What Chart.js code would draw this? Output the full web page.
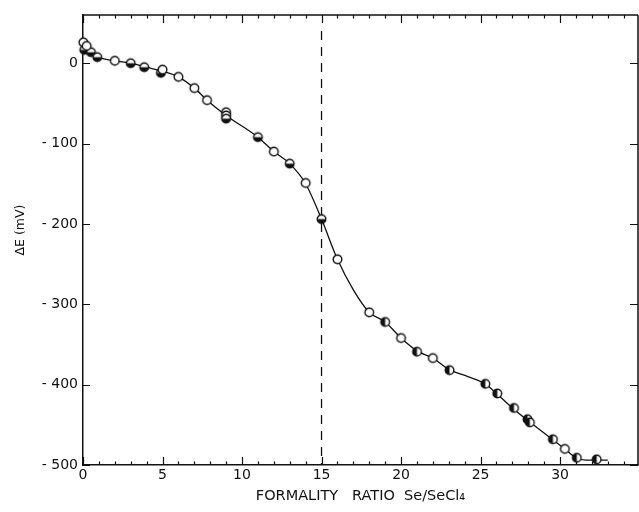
<!DOCTYPE html>
<html><head><meta charset="utf-8">
<script src="https://cdn.jsdelivr.net/npm/chart.js@4.4.1/dist/chart.umd.min.js"></script>
<style>html,body{margin:0;padding:0;background:#fff}#wrap{width:639px;height:512px}</style>
</head><body><div id="wrap"><canvas id="c" width="639" height="512"></canvas></div>
<script>
// Open circles
const openX = [0.02, 0.23, 2, 5, 6, 7, 7.8, 12, 14, 16, 18, 20, 22, 30.3];
const openY = [26, 21.5, 3, -8, -17, -31, -46, -110, -149, -244, -310, -342, -367, -480];
// Lower-half filled circles
const halfX = [0.08, 0.5, 0.9, 3, 3.85, 4.9, 9, 9, 9, 11, 13, 15];
const halfY = [16.6, 13.7, 7.5, 0, -5, -12, -61, -65, -69, -92, -125, -194];
// Left-half filled circles
const sideX = [19, 21, 23.05, 25.3, 26.05, 27.1, 27.95, 28.1, 29.55, 31.05, 32.3];
const sideY = [-322, -359, -382, -399, -411, -429, -443, -447, -468, -491, -493];
// Drawn curve
const curveX = [0, 0.9, 2, 3, 4, 5, 6, 7, 7.8, 9, 11, 12, 13, 14, 15, 16, 17, 18, 19, 20, 21, 22, 23, 24.2, 25.3, 26, 27, 28, 29.5, 30.3, 31, 31.6, 32.3, 33];
const curveY = [20, 8, 3, 0, -5, -10, -17, -31, -46, -65, -92, -110, -125, -150, -194, -244, -282, -310, -322, -342, -358, -367, -381, -390, -399, -411, -429, -445, -468, -480, -491, -494, -494, -494];
// Equivalence line
const equivX = 15;
const equivY = [40, -500];
// Tick labels
const xTickLabels = [0, 5, 10, 15, 20, 25, 30];
const yTickLabels = [0, -100, -200, -300, -400, -500];

const INK = '#111';
const FONT = 'DejaVu Sans, sans-serif';

function marker(kind) {
  const s = 13, r = 4.3, cx = s / 2, cy = s / 2;
  const c = document.createElement('canvas');
  c.width = s; c.height = s;
  const g = c.getContext('2d');
  g.fillStyle = '#fff';
  g.beginPath(); g.arc(cx, cy, r, 0, 2 * Math.PI); g.fill();
  g.fillStyle = INK;
  if (kind === 'bottom') { g.beginPath(); g.arc(cx, cy, r, 0, Math.PI); g.closePath(); g.fill(); }
  if (kind === 'left') { g.beginPath(); g.arc(cx, cy, r, Math.PI / 2, 3 * Math.PI / 2); g.closePath(); g.fill(); }
  g.lineWidth = 1.4; g.strokeStyle = INK;
  g.beginPath(); g.arc(cx, cy, r, 0, 2 * Math.PI); g.stroke();
  return c;
}
const zip = (xs, ys) => xs.map((x, i) => ({ x, y: ys[i] }));

const frameTicks = {
  id: 'frameTicks',
  afterDraw(chart) {
    const { ctx, chartArea: a, scales: { x, y } } = chart;
    ctx.save();
    ctx.strokeStyle = INK;
    ctx.lineWidth = 1.5;
    ctx.beginPath();
    ctx.moveTo(a.left, a.top); ctx.lineTo(a.right, a.top);
    ctx.moveTo(a.right, a.top); ctx.lineTo(a.right, a.bottom);
    ctx.stroke();
    ctx.lineWidth = 1.2;
    ctx.beginPath();
    for (let v = 0; v <= Math.floor(x.max); v++) {
      const px = Math.round(x.getPixelForValue(v)) + 0.5;
      const len = v % 5 === 0 ? 8 : 3.5;
      ctx.moveTo(px, a.bottom); ctx.lineTo(px, a.bottom - len);
      ctx.moveTo(px, a.top); ctx.lineTo(px, a.top + len);
    }
    yTickLabels.forEach(v => {
      const py = Math.round(y.getPixelForValue(v)) + 0.5;
      ctx.moveTo(a.left, py); ctx.lineTo(a.left + 7, py);
      ctx.moveTo(a.right, py); ctx.lineTo(a.right - 8, py);
    });
    ctx.stroke();
    ctx.restore();
  }
};

new Chart(document.getElementById('c'), {
  type: 'scatter',
  data: {
    datasets: [
      { data: zip(openX, openY), pointStyle: marker('open'), order: 0, clip: false },
      { data: zip(halfX, halfY), pointStyle: marker('bottom'), order: 0, clip: false },
      { data: zip(sideX, sideY), pointStyle: marker('left'), order: 0, clip: false },
      { data: zip(curveX, curveY), showLine: true, pointRadius: 0, borderColor: INK, borderWidth: 1.3,
        cubicInterpolationMode: 'monotone', order: 2 },
      { data: equivY.map(v => ({ x: equivX, y: v })), showLine: true, pointRadius: 0, borderColor: INK,
        borderWidth: 1.3, borderDash: [9, 7], order: 3 }
    ]
  },
  options: {
    responsive: false,
    animation: false,
    devicePixelRatio: 1,
    layout: { autoPadding: false, padding: { top: 15, right: 1, left: 0, bottom: 0 } },
    plugins: { legend: { display: false }, tooltip: { enabled: false } },
    scales: {
      x: {
        type: 'linear', min: 0, max: 34.9,
        afterFit: s => { s.height = 47; },
        afterBuildTicks: s => { s.ticks = xTickLabels.map(v => ({ value: v })); },
        grid: { display: true, drawOnChartArea: false, drawTicks: false },
        border: { display: true, color: INK, width: 1.5 },
        ticks: { color: INK, font: { family: FONT, size: 14 }, padding: 2, maxRotation: 0, autoSkip: false },
        title: { display: true, text: 'FORMALITY   RATIO  Se/SeCl\u2084', color: INK,
                 font: { family: FONT, size: 14.5 }, padding: { top: 4, bottom: 7 } }
      },
      y: {
        type: 'linear', min: -500, max: 60,
        afterFit: s => { s.width = 83; },
        afterBuildTicks: s => { s.ticks = yTickLabels.map(v => ({ value: v })); },
        grid: { display: true, drawOnChartArea: false, drawTicks: false },
        border: { display: true, color: INK, width: 1.5 },
        ticks: { color: INK, font: { family: FONT, size: 14 }, padding: 5,
                 callback: v => v === 0 ? '0' : '- ' + Math.abs(v) },
        title: { display: true, text: '     \u0394E (mV)', color: INK,
                 font: { family: FONT, size: 12.5 }, padding: { top: 13, bottom: 0 } }
      }
    },
    elements: { point: { radius: 5 } }
  },
  plugins: [frameTicks]
});
</script>
</body></html>
